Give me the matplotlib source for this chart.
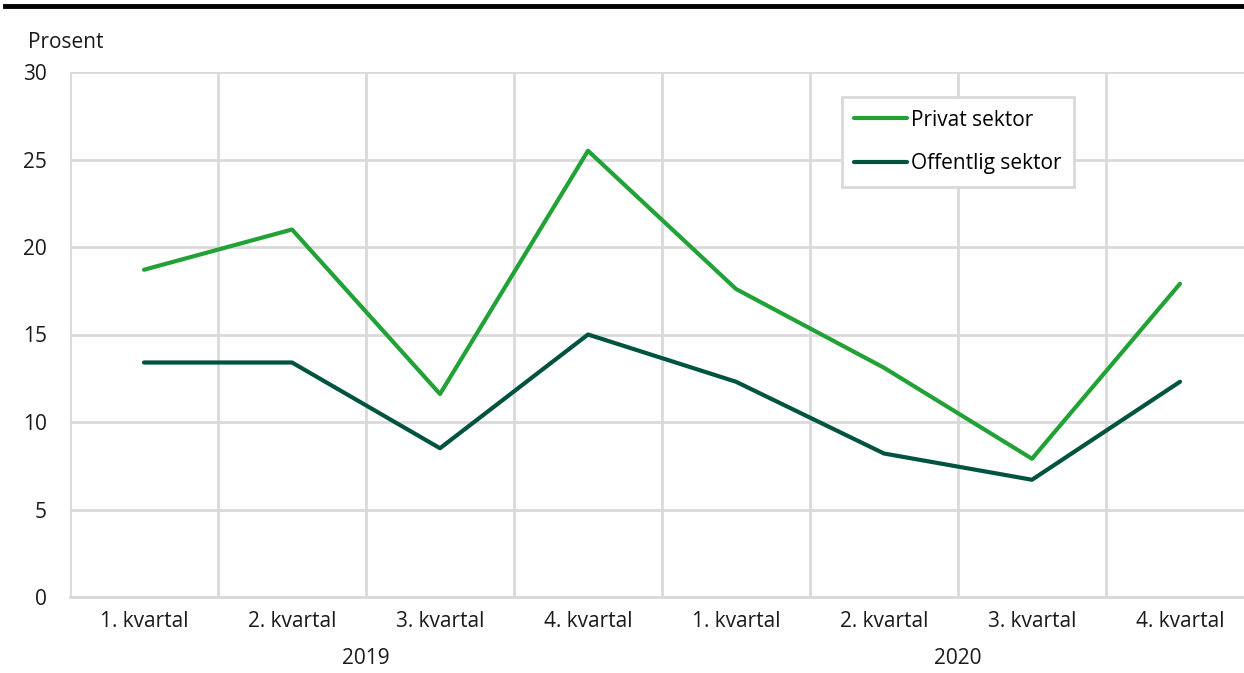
import matplotlib.pyplot as plt
from matplotlib.lines import Line2D
import matplotlib.transforms as mtransforms
import numpy as np

plt.rcParams['font.family'] = ['Open Sans', 'DejaVu Sans']

quarters = ['1. kvartal', '2. kvartal', '3. kvartal', '4. kvartal',
            '1. kvartal', '2. kvartal', '3. kvartal', '4. kvartal']
years = ['2019', '2020']
privat = [18.7, 21.0, 11.6, 25.5, 17.6, 13.1, 7.9, 17.9]
offentlig = [13.4, 13.4, 8.5, 15.0, 12.3, 8.2, 6.7, 12.3]

green = '#22a236'
dark = '#00543f'
grid = '#d9d9d9'
fs = 15

W, H = 1244, 673
fig = plt.figure(figsize=(W / 100, H / 100), dpi=100)
ax = fig.add_axes([70 / W, 76 / H, 1184 / W, 525 / H])

x = np.arange(len(quarters))
ax.plot(x, privat, color=green, lw=3, solid_capstyle='round', label='Privat sektor', zorder=3)
ax.plot(x, offentlig, color=dark, lw=3, solid_capstyle='round', label='Offentlig sektor', zorder=3)

ax.set_xlim(-0.5, len(quarters) - 0.5)
ax.set_ylim(0, 30)
ax.set_yticks(range(0, 31, 5))
ax.set_xticks(x)
ax.set_xticklabels(quarters)
ax.set_xticks(np.arange(-0.5, len(quarters), 1), minor=True)
ax.tick_params(axis='both', which='both', length=0, labelsize=fs, colors='#1a1a1a')
ax.tick_params(axis='x', pad=10)
ax.tick_params(axis='y', pad=16.5)

ax.grid(axis='y', which='major', color=grid, lw=2)
ax.grid(axis='x', which='minor', color=grid, lw=2)
ax.grid(axis='x', which='major', visible=False)
ax.set_axisbelow(True)
for s in ['top', 'right', 'left']:
    ax.spines[s].set_visible(False)
ax.spines['bottom'].set_color(grid)
ax.spines['bottom'].set_linewidth(2)

trans = mtransforms.blended_transform_factory(ax.transData, ax.transAxes)
for i, yr in enumerate(years):
    ax.text(1.5 + 4 * i, -0.117, yr, transform=trans, ha='center', va='center',
            fontsize=fs, color='#1a1a1a')

fig.text(28 / W, 1 - 42 / H, 'Prosent', ha='left', va='center', fontsize=fs, color='#1a1a1a')

# top rule
fig.add_artist(Line2D([5 / W, 1], [1 - 6 / H, 1 - 6 / H], color='black', lw=3.5))

leg = ax.legend(loc='upper left', bbox_to_anchor=((842 - 70) / 1184, 1 - (97 - 72) / 525),
                fontsize=fs, frameon=True, fancybox=False, handlelength=2.5,
                handletextpad=0.2, labelspacing=1.1, borderpad=0.6, borderaxespad=0)
leg.get_frame().set_edgecolor(grid)
leg.get_frame().set_linewidth(2)
leg.get_frame().set_alpha(1)

fig.savefig('out.png', dpi=100)
